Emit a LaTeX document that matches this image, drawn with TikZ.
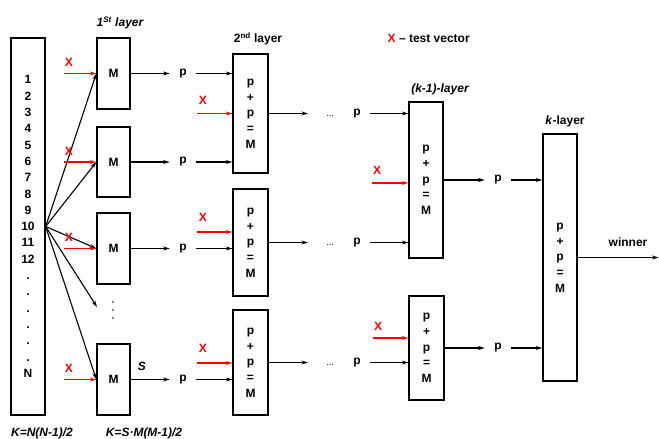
\documentclass[tikz,border=0pt]{standalone}
\usepackage{fontspec}
\setmainfont{Liberation Sans}
\usetikzlibrary{arrows.meta}
\begin{document}
\begin{tikzpicture}[x=1pt,y=-1pt,
  every node/.style={font=\fontsize{12}{15.7}\selectfont\bfseries, inner sep=0pt},
  box/.style={draw, line width=1.3pt, minimum width=34pt, align=center},
  arr/.style={-{Stealth[length=6.5pt,width=4pt]}, line width=1.1pt},
  redarr/.style={arr, red},
  pn/.style={inner xsep=9.5pt},
  xl/.style={text=red},
  dts/.style={font=\fontsize{9}{9}\selectfont},
  lay/.style={font=\fontsize{12}{14}\selectfont\bfseries\itshape}
]
\useasboundingbox (0,0) rectangle (659,439);

% input box
\node[box, minimum height=377pt, font=\fontsize{12}{16.3}\selectfont\bfseries] (L) at (28,226.5)
  {1\\2\\3\\4\\5\\6\\7\\8\\9\\10\\11\\12\\.\\.\\.\\.\\.\\.\\N};

% first layer
\node[box, minimum width=33pt, minimum height=71pt] (M1) at (113.5,73.5) {M};
\node[box, minimum width=33pt, minimum height=70pt] (M2) at (113.5,162) {M};
\node[box, minimum width=33pt, minimum height=71pt] (M3) at (113.5,248.5) {M};
\node[box, minimum width=33pt, minimum height=71pt] (M4) at (113.5,379.5) {M};
\fill (113,302) circle (0.9pt) (113,310) circle (0.9pt) (113,318) circle (0.9pt);
\coordinate (fanend) at (97,307);

\draw[arr] (L.east) -- (M1.west);
\draw[arr] (L.east) -- (M2.west);
\draw[arr] (L.east) -- (M3.west);
\draw[arr] (L.east) -- (fanend);
\draw[arr] (L.east) -- (M4.west);

% red inputs first layer
\coordinate (r1) at (64,73.5);  \node[xl] (X1) at (69,62) {X};
\coordinate (r2) at (64,162);   \node[xl] (X2) at (69,151) {X};
\coordinate (r3) at (64,248.5); \node[xl] (X3) at (69,237) {X};
\coordinate (r4) at (64,379.5); \node[xl] (X4) at (69,368) {X};
\draw[redarr] (r1) -- (r1 -| M1.west);
\draw[redarr] (r2) -- (r2 -| M2.west);
\draw[redarr] (r3) -- (r3 -| M3.west);
\draw[redarr] (r4) -- (r4 -| M4.west);

% p after first layer
\node[pn] (p1) at (183,73.5) {p};
\node[pn] (p2) at (183,162) {p};
\node[pn] (p3) at (183,248.5) {p};
\node[pn] (p4) at (183,379.5) {p};
\draw[arr] (M1) -- (p1);
\draw[arr] (M2) -- (p2);
\draw[arr] (M3) -- (p3);
\draw[arr] (M4) -- (p4);

% second layer
\node[box, minimum width=35pt, minimum height=119pt] (A) at (250.5,113.5) {p\\+\\p\\=\\M};
\node[box, minimum width=35pt, minimum height=107pt] (B) at (250.5,242.5) {p\\+\\p\\=\\M};
\node[box, minimum width=35pt, minimum height=105pt] (C) at (250.5,362.5) {p\\+\\p\\=\\M};

\draw[arr] (p1.east) -- (p1.east -| A.west);
\draw[arr] (p2.east) -- (p2.east -| A.west);
\draw[arr] (p3.east) -- (p3.east -| B.west);
\draw[arr] (p4.east) -- (p4.east -| C.west);

\coordinate (ra) at (197,113.5); \node[xl] (XA) at (203,100) {X};
\coordinate (rb) at (197,232);   \node[xl] (XB) at (203,217) {X};
\coordinate (rc) at (197,363);   \node[xl] (XC) at (203,348) {X};
\draw[redarr] (ra) -- (ra -| A.west);
\draw[redarr] (rb) -- (rb -| B.west);
\draw[redarr] (rc) -- (rc -| C.west);

% outputs of second layer
\coordinate (eA) at (308,113.5);
\coordinate (eB) at (308,242.5);
\coordinate (eC) at (308,362.5);
\node[dts] (dA) at (330,116) {...};
\node[dts] (dB) at (330,245) {...};
\node[dts] (dC) at (330,365) {...};
\node[pn] (pA) at (357,113.5) {p};
\node[pn] (pB) at (357,242.5) {p};
\node[pn] (pC) at (357,362.5) {p};
\draw[arr] (A.east) -- (eA);
\draw[arr] (B.east |- eB) -- (eB);
\draw[arr] (C.east |- eC) -- (eC);

% (k-1) layer
\node[box, minimum height=156pt] (K1) at (426,180) {p\\+\\p\\=\\M};
\node[box, minimum width=35pt, minimum height=104pt] (K2) at (426.5,348) {p\\+\\p\\=\\M};
\draw[arr] (pA.east) -- (pA.east -| K1.west);
\draw[arr] (pB.east) -- (pB.east -| K1.west);
\draw[arr] (pC.east) -- (pC.east -| K2.west);

\coordinate (rk1) at (372,183); \node[xl] (XK1) at (377,170) {X};
\coordinate (rk2) at (373,338); \node[xl] (XK2) at (378,326) {X};
\draw[redarr] (rk1) -- (rk1 -| K1.west);
\draw[redarr] (rk2) -- (rk2 -| K2.west);

% k layer
\node[box, minimum height=247pt] (K) at (560,257.5) {p\\+\\p\\=\\M};
\node[pn] (pk1) at (498,180) {p};
\node[pn] (pk2) at (498,348) {p};
\draw[arr] (K1.east |- pk1) -- (pk1);
\draw[arr] (K2) -- (pk2);
\draw[arr] (pk1.east) -- (pk1.east -| K.west);
\draw[arr] (pk2.east) -- (pk2.east -| K.west);
\coordinate (win) at (658.5,257.5);
\draw[arr] (K.east) -- (win);
\node (winner) at (628,242) {winner};

% labels
\node[lay] (t1) at (120,23) {1\textsuperscript{St} layer};
\node (t2) at (258,39) {2\textsuperscript{nd} layer};
\node[anchor=west] (leg) at (387.5,38) {\textcolor{red}{X} – test vector};
\node[lay] (tk1) at (440,89) {(k-1)-layer};
\node (tk) at (565,121) {\textit{k}-layer};
\node[lay] (S) at (142,366) {S};
\node[lay] (f1) at (42,433) {K=N(N-1)/2};
\node[lay] (f2) at (144,433) {K=S·M(M-1)/2};
\end{tikzpicture}
\end{document}
